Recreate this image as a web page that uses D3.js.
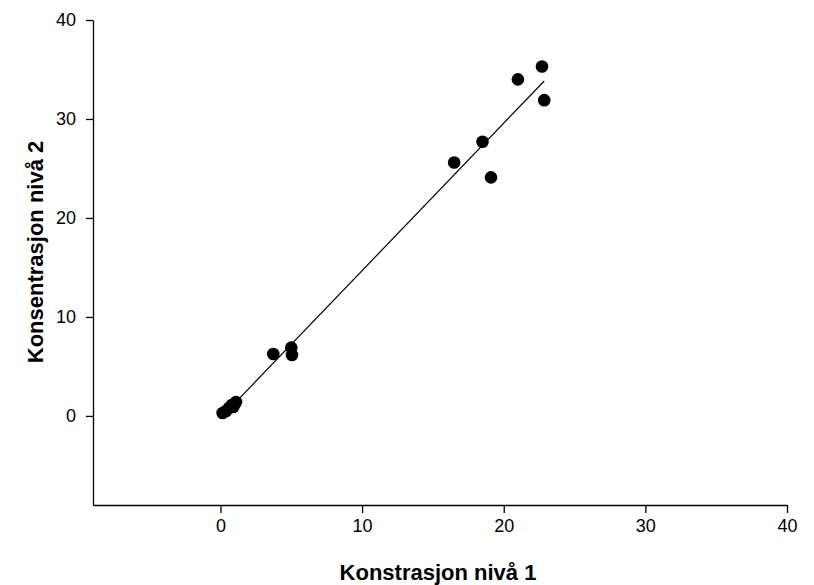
<!DOCTYPE html>
<html>
<head>
<meta charset="utf-8">
<script src="https://cdn.jsdelivr.net/npm/d3@7"></script>
<style>
  body { margin: 0; background: #fff; }
  text { font-family: "Liberation Sans", Arial, sans-serif; }
</style>
</head>
<body>
<div id="app"></div>
<script>
// measured pairs: level 1 vs level 2
var xValues = [0.15, 0.4, 0.6, 0.8, 0.9, 1.0, 1.1, 3.73, 5.0, 5.05, 16.5, 18.5, 19.1, 21.0, 22.7, 22.86];
var yValues = [0.3, 0.5, 0.8, 1.1, 0.9, 1.2, 1.4, 6.26, 6.9, 6.16, 25.6, 27.7, 24.1, 34.0, 35.3, 31.9];
var xTicks = [0, 10, 20, 30, 40];
var yTicks = [0, 10, 20, 30, 40];
var xTitle = "Konstrasjon nivå 1";
var yTitle = "Konsentrasjon nivå 2";

var width = 814,
    height = 585;

var plotLeft = 93, plotRight = 787, plotTop = 20, plotBottom = 505;

var svg = d3.select("#app").append("svg")
    .attr("width", width)
    .attr("height", height);

var x = d3.scaleLinear().domain([-9, 40]).range([plotLeft, plotRight]);
var y = d3.scaleLinear().domain([-9, 40]).range([plotBottom, plotTop]);

var points = xValues.map(function(d, i) { return [d, yValues[i]]; });

// least squares line
var mx = d3.mean(xValues), my = d3.mean(yValues);
var slope = d3.sum(points, function(p) { return (p[0] - mx) * (p[1] - my); }) /
            d3.sum(points, function(p) { return (p[0] - mx) * (p[0] - mx); });
var icpt = my - slope * mx;
var ext = d3.extent(xValues);

svg.append("line")
    .attr("x1", x(ext[0])).attr("y1", y(icpt + slope * ext[0]))
    .attr("x2", x(ext[1])).attr("y2", y(icpt + slope * ext[1]))
    .attr("stroke", "#000")
    .attr("stroke-width", 1.2);

svg.selectAll("circle.pt")
    .data(points)
    .enter().append("circle")
    .attr("class", "pt")
    .attr("cx", function(d) { return x(d[0]); })
    .attr("cy", function(d) { return y(d[1]); })
    .attr("r", 6.3)
    .attr("fill", "#000");

var xAxis = svg.append("g")
    .attr("transform", "translate(0," + plotBottom + ")")
    .call(d3.axisBottom(x).tickValues(xTicks).tickSize(8).tickPadding(6).tickSizeOuter(0));

var yAxis = svg.append("g")
    .attr("transform", "translate(" + plotLeft + ",0)")
    .call(d3.axisLeft(y).tickValues(yTicks).tickSize(7).tickPadding(10).tickSizeOuter(0));

[xAxis, yAxis].forEach(function(g) {
    g.attr("font-size", 18).attr("font-family", "'Liberation Sans', Arial, sans-serif");
    g.select(".domain").attr("stroke", "#000").attr("stroke-width", 1.3);
    g.selectAll(".tick line").attr("stroke", "#000").attr("stroke-width", 1.3);
    g.selectAll(".tick text").attr("fill", "#000");
});

svg.append("text")
    .attr("x", 438)
    .attr("y", 580)
    .attr("text-anchor", "middle")
    .style("font-size", "22px")
    .style("font-weight", "bold")
    .text(xTitle);

svg.append("text")
    .attr("transform", "translate(43,252) rotate(-90)")
    .attr("text-anchor", "middle")
    .style("font-size", "22px")
    .style("font-weight", "bold")
    .text(yTitle);
</script>
</body>
</html>
